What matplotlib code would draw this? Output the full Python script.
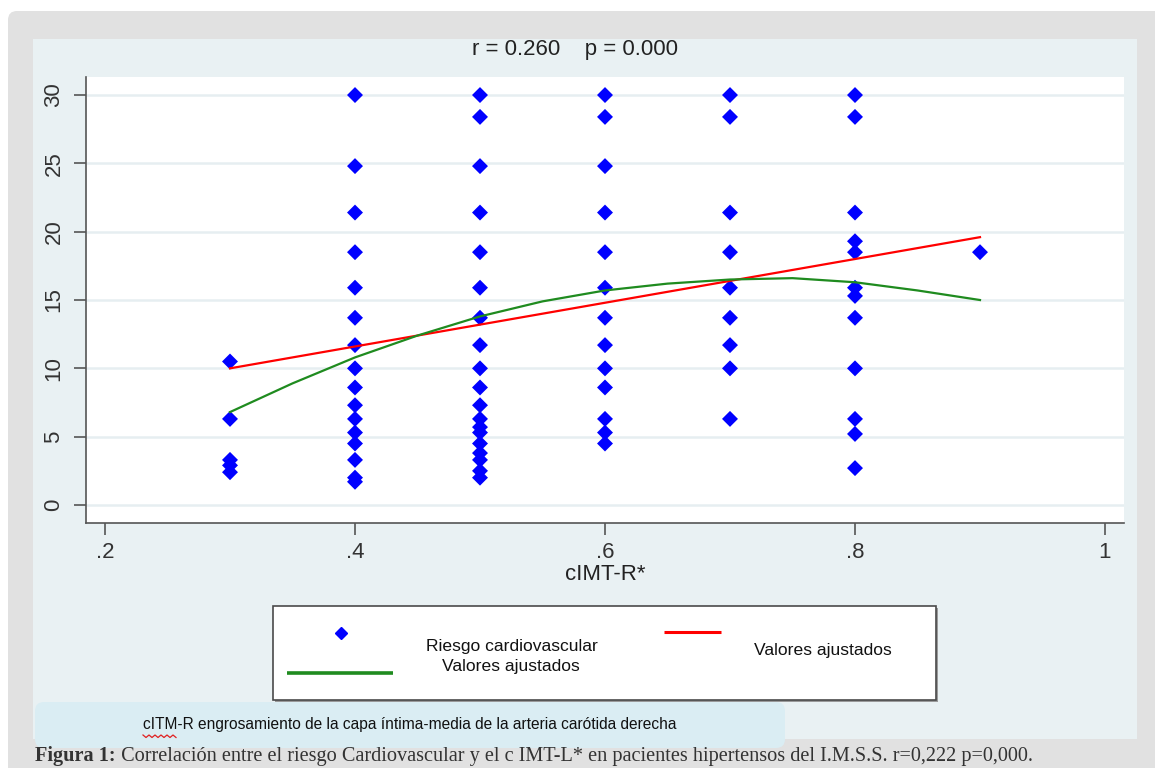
import matplotlib
matplotlib.use("Agg")
import matplotlib.pyplot as plt
from matplotlib.patches import FancyBboxPatch, Rectangle
import numpy as np

# ---------------- data ----------------
cimt_x = ([0.3] * 5 + [0.4] * 16 + [0.5] * 19 + [0.6] * 13 + [0.7] * 9 + [0.8] * 12 + [0.9] * 1)
riesgo_y = (
    [10.5, 6.3, 3.3, 2.9, 2.4] +
    [30, 24.8, 21.4, 18.5, 15.9, 13.7, 11.7, 10.0, 8.6, 7.3, 6.3, 5.3, 4.5, 3.3, 2.0, 1.7] +
    [30, 28.4, 24.8, 21.4, 18.5, 15.9, 13.7, 11.7, 10.0, 8.6, 7.3, 6.3, 5.7, 5.3, 4.5, 3.8, 3.3, 2.5, 2.0] +
    [30, 28.4, 24.8, 21.4, 18.5, 15.9, 13.7, 11.7, 10.0, 8.6, 6.3, 5.3, 4.5] +
    [30, 28.4, 21.4, 18.5, 15.9, 13.7, 11.7, 10.0, 6.3] +
    [30, 28.4, 21.4, 19.3, 18.5, 15.9, 15.3, 13.7, 10.0, 6.3, 5.2, 2.7] +
    [18.5]
)
lfit_x = [0.3, 0.9]
lfit_y = [10.0, 19.6]
qfit_x = [0.30, 0.35, 0.40, 0.45, 0.50, 0.55, 0.60, 0.65, 0.70, 0.75, 0.80, 0.85, 0.90]
qfit_y = [6.8, 8.9, 10.8, 12.4, 13.8, 14.9, 15.7, 16.2, 16.5, 16.6, 16.3, 15.7, 15.0]

x_ticks = [0.2, 0.4, 0.6, 0.8, 1.0]
x_ticklabels = [".2", ".4", ".6", ".8", "1"]
y_ticks = [0, 5, 10, 15, 20, 25, 30]
y_ticklabels = ["0", "5", "10", "15", "20", "25", "30"]

title_txt = "r = 0.260    p = 0.000"
xlabel_txt = "cIMT-R*"
legend_scatter = "Riesgo cardiovascular"
legend_fit = "Valores ajustados"
note_txt = "cITM-R engrosamiento de la capa íntima-media de la arteria carótida derecha"
caption_bold = "Figura 1:"
caption_txt = " Correlación entre el riesgo Cardiovascular y el c IMT-L* en pacientes hipertensos del I.M.S.S. r=0,222 p=0,000."

# ---------------- figure ----------------
W, H = 1155, 768
plt.rcParams['font.family'] = ['Liberation Sans', 'DejaVu Sans']
fig = plt.figure(figsize=(W / 100, H / 100), dpi=100)
fig.patch.set_facecolor('white')

# background / decoration layer in pixel coordinates
bg = fig.add_axes([0, 0, 1, 1], zorder=0)
bg.set_xlim(0, W)
bg.set_ylim(H, 0)
bg.axis('off')
bg.add_patch(FancyBboxPatch((8 + 8, 11 + 8), W + 40, H + 40,
                            boxstyle="round,pad=8,rounding_size=9",
                            facecolor='#e1e1e1', edgecolor='none'))
bg.add_patch(Rectangle((33, 39), 1104, 700, facecolor='#e9f1f3', edgecolor='none'))

# legend box
bg.add_patch(Rectangle((275, 608), 663, 94, facecolor='#9a9a9a', edgecolor='none'))
bg.add_patch(Rectangle((273, 606), 663, 94, facecolor='white', edgecolor='#4a4a4a', lw=1.2))
bg.plot([341], [633], marker='D', ms=6.5, color='#0000ff', ls='none')
bg.plot([664, 721], [632, 632], color='#ff0000', lw=2.2, solid_capstyle='butt')
bg.plot([287, 393], [673, 673], color='#1f8b1f', lw=2.6, solid_capstyle='butt')
bg.text(512, 646, legend_scatter, ha='center', va='center', fontsize=12.6, color='#111111')
bg.text(511, 667, legend_fit, ha='center', va='center', fontsize=12.6, color='#111111')
bg.text(823, 651, legend_fit, ha='center', va='center', fontsize=12.6, color='#111111')

# note box
bg.add_patch(FancyBboxPatch((35 + 8, 702 + 8), 750 - 16, 46 - 16,
                            boxstyle="round,pad=8,rounding_size=9",
                            facecolor='#daedf3', edgecolor='none'))
bg.text(143, 724, note_txt, ha='left', va='center', fontsize=11.2,
        family=['Liberation Sans Narrow', 'Liberation Sans'], color='#111111')
sq_x = [143, 146, 149, 152, 155, 158, 161, 164, 167, 170, 173, 176]
sq_y = [735, 737.5, 735, 737.5, 735, 737.5, 735, 737.5, 735, 737.5, 735, 737.5]
bg.plot(sq_x, sq_y, color='#e02020', lw=0.9)

# caption
tb = bg.text(35, 756, caption_bold, ha='left', va='center', fontsize=14.6,
             family=['Liberation Serif'], fontweight='bold', color='#333333')
fig.canvas.draw()
r = fig.canvas.get_renderer()
ext = tb.get_window_extent(renderer=r)
x_end = ext.x1  # display pixels == figure pixels
bg.text(x_end, 756, caption_txt, ha='left', va='center', fontsize=14.6,
        family=['Liberation Serif'], color='#333333')

# title
fig.text(575 / W, 1 - 50 / H, title_txt, ha='center', va='center', fontsize=16, color='#222222')

# ---------------- main plot ----------------
ax = fig.add_axes([86 / W, 1 - 523 / H, (1124 - 86) / W, (523 - 77) / H], zorder=2)
ax.set_facecolor('white')
ax.scatter(cimt_x, riesgo_y, marker='D', s=66, color='#0000ff', edgecolors='none', zorder=3)
ax.plot(lfit_x, lfit_y, color='#ff0000', lw=1.6, zorder=4)
ax.plot(qfit_x, qfit_y, color='#1f8b1f', lw=1.6, zorder=5)

ax.set_xlim(0.1848, 1.0152)
ax.set_ylim(-1.317, 31.32)
ax.set_xticks(x_ticks)
ax.set_xticklabels(x_ticklabels)
ax.set_yticks(y_ticks)
ax.set_yticklabels(y_ticklabels, rotation=90, va='center')
ax.yaxis.grid(True, color='#e6eef1', lw=1.8)
ax.set_axisbelow(True)
for s in ['top', 'right']:
    ax.spines[s].set_visible(False)
for s in ['left', 'bottom']:
    ax.spines[s].set_color('#555555')
    ax.spines[s].set_linewidth(1.2)
ax.tick_params(axis='both', direction='out', length=8.5, width=1.2, color='#555555',
               labelcolor='#333333', labelsize=16)
ax.tick_params(axis='x', pad=5)
ax.tick_params(axis='y', pad=7)
ax.set_xlabel(xlabel_txt, fontsize=16, color='#222222', labelpad=1)

fig.savefig('out.png', dpi=100)
